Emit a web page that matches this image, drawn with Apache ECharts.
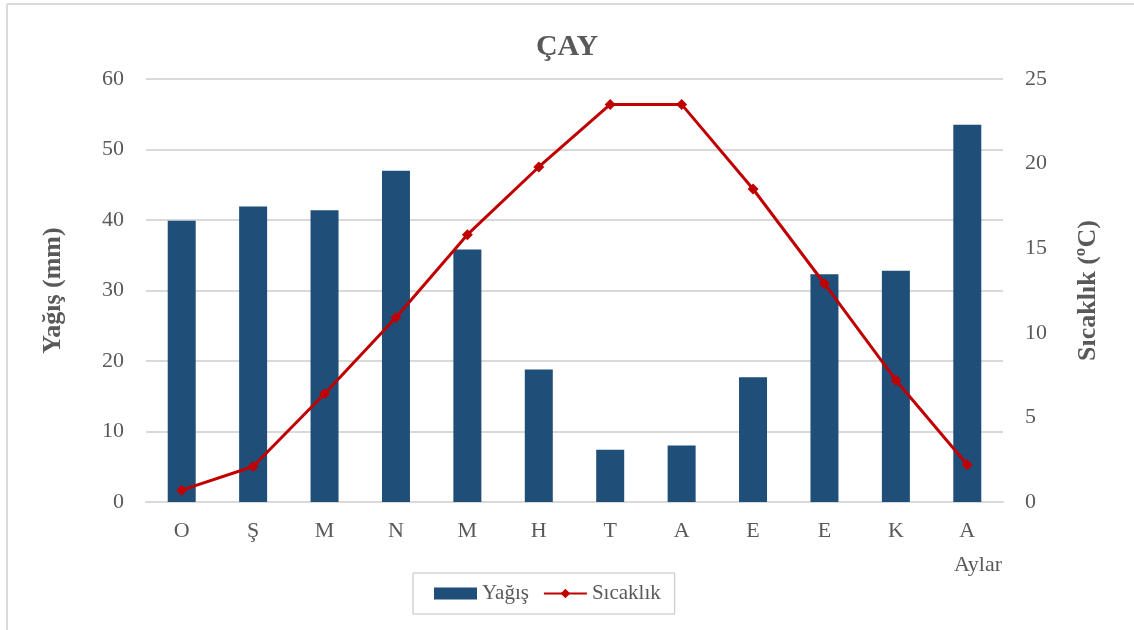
<!DOCTYPE html>
<html lang="tr">
<head>
    <meta charset="UTF-8">
    <title>ÇAY</title>
    <script src="https://cdn.jsdelivr.net/npm/echarts/dist/echarts.min.js"></script>
    <style>
        html, body { margin: 0; padding: 0; background: #fff; }
    </style>
</head>
<body>
    <div id="main" style="width: 1134px;height:630px;"></div>
    <script>
        // monthly values
        const months = ['O', 'Ş', 'M', 'N', 'M', 'H', 'T', 'A', 'E', 'E', 'K', 'A'];
        const yagis = [39.9, 41.9, 41.4, 47.0, 35.8, 18.8, 7.4, 8.0, 17.7, 32.3, 32.8, 53.5];
        const sicaklik = [0.7, 2.1, 6.4, 10.9, 15.8, 19.8, 23.5, 23.5, 18.5, 12.9, 7.2, 2.2];

        const font = '"Liberation Serif", "Times New Roman", serif';
        const textGray = '#595959';

        var chart = echarts.init(document.getElementById('main'));
        var option = {
            backgroundColor: '#fff',
            title: {
                text: 'ÇAY',
                left: 'center',
                top: 27,
                textStyle: { fontFamily: font, fontSize: 30, fontWeight: 'bold', color: textGray }
            },
            legend: {
                data: [{ name: 'Yağış', icon: 'rect' }, { name: 'Sıcaklık' }],
                left: 413,
                top: 573,
                padding: [10, 14, 10, 21],
                itemGap: 14,
                itemWidth: 43,
                itemHeight: 12,
                borderColor: '#bfbfbf',
                borderWidth: 1,
                textStyle: { fontFamily: font, fontSize: 21, color: textGray }
            },
            grid: {
                left: 146,
                right: 131,
                top: 79,
                bottom: 128,
                containLabel: false
            },
            xAxis: {
                type: 'category',
                data: months,
                name: 'Aylar',
                nameLocation: 'end',
                nameGap: 0,
                nameTextStyle: {
                    fontFamily: font, fontSize: 22, color: textGray,
                    align: 'center', verticalAlign: 'top', padding: [52, 0, 0, -50]
                },
                axisLine: { lineStyle: { color: '#d9d9d9', width: 2 } },
                axisTick: { show: false },
                axisLabel: { fontFamily: font, fontSize: 22, color: textGray, margin: 18 }
            },
            yAxis: [{
                type: 'value',
                min: 0,
                max: 60,
                interval: 10,
                name: 'Yağış (mm)',
                nameLocation: 'middle',
                nameGap: 80,
                nameTextStyle: { fontFamily: font, fontSize: 26, fontWeight: 'bold', color: textGray },
                axisLabel: { fontFamily: font, fontSize: 22, color: textGray, margin: 22 },
                splitLine: { lineStyle: { color: '#d9d9d9', width: 2 } }
            }, {
                type: 'value',
                min: 0,
                max: 25,
                interval: 5,
                name: 'Sıcaklık (ºC)',
                nameLocation: 'middle',
                nameGap: 72,
                nameRotate: 90,
                nameTextStyle: { fontFamily: font, fontSize: 26, fontWeight: 'bold', color: textGray },
                axisLabel: { fontFamily: font, fontSize: 22, color: textGray, margin: 22 },
                splitLine: { show: false }
            }],
            series: [{
                name: 'Yağış',
                type: 'bar',
                yAxisIndex: 0,
                data: yagis,
                barWidth: 28,
                itemStyle: { color: '#1f4e79' }
            }, {
                name: 'Sıcaklık',
                type: 'line',
                yAxisIndex: 1,
                data: sicaklik,
                symbol: 'diamond',
                symbolSize: 11,
                lineStyle: { color: '#c00000', width: 3 },
                itemStyle: { color: '#c00000' }
            }],
            graphic: [
                { type: 'line', shape: { x1: 7, y1: 4, x2: 7, y2: 630 }, style: { stroke: '#d9d9d9', lineWidth: 2 } },
                { type: 'line', shape: { x1: 7, y1: 4, x2: 1134, y2: 4 }, style: { stroke: '#d9d9d9', lineWidth: 2 } }
            ]
        };

        chart.setOption(option);
    </script>
</body>
</html>
